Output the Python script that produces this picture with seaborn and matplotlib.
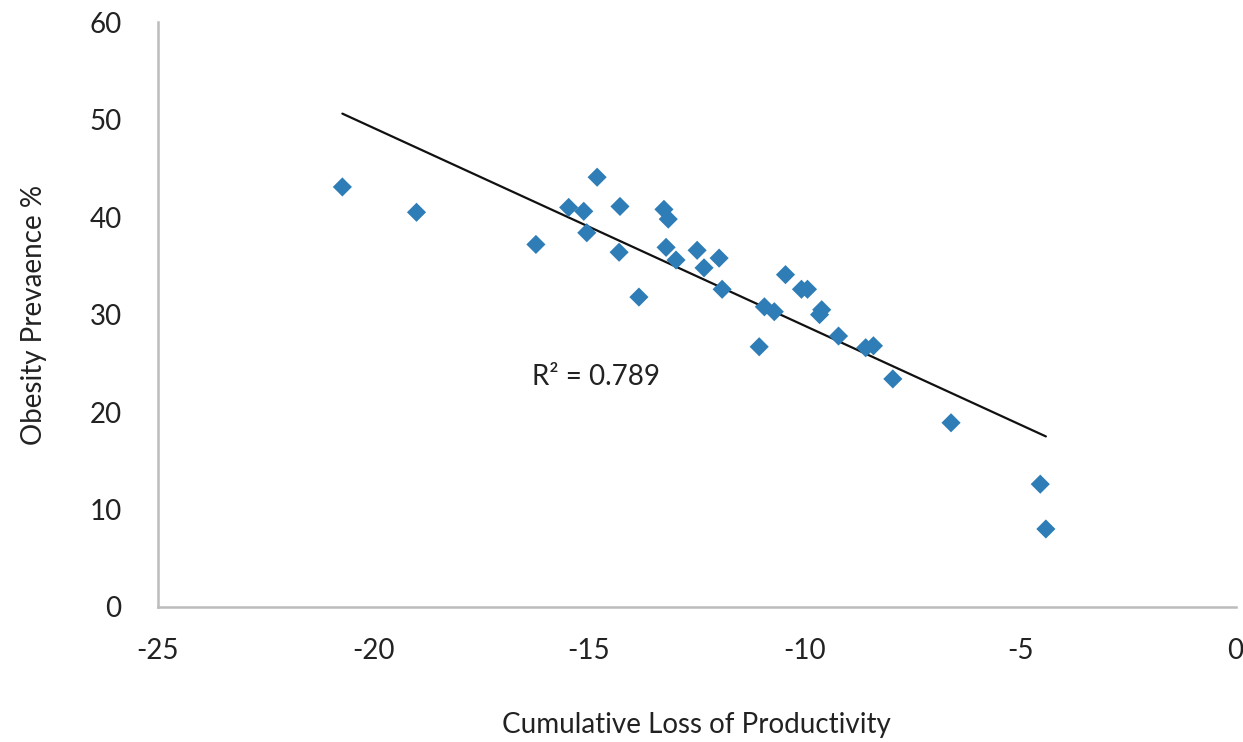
import numpy as np
import pandas as pd
import matplotlib
matplotlib.use("Agg")
import matplotlib.pyplot as plt
import seaborn as sns

# Cumulative loss of productivity vs. obesity prevalence
productivity_loss = [
    -20.72, -19.00, -16.23, -15.47, -15.12, -15.05, -14.81, -14.28, -14.30,
    -13.84, -13.26, -13.16, -13.21, -12.98, -12.49, -12.33, -11.98, -11.91,
    -11.05, -10.93, -10.70, -10.44, -10.07, -9.93, -9.65, -9.60, -9.21,
    -8.58, -8.40, -7.95, -6.60, -4.53, -4.40,
]
obesity_prevalence = [
    43.1, 40.5, 37.2, 41.0, 40.6, 38.4, 44.1, 41.1, 36.4,
    31.8, 40.8, 39.8, 36.9, 35.6, 36.6, 34.8, 35.8, 32.6,
    26.7, 30.8, 30.3, 34.1, 32.6, 32.6, 30.0, 30.5, 27.8,
    26.6, 26.8, 23.4, 18.9, 12.6, 8.0,
]
r_squared_label = "R\u00b2 = 0.789"
x_ticks = [-25, -20, -15, -10, -5, 0]
y_ticks = [0, 10, 20, 30, 40, 50, 60]

df = pd.DataFrame({"loss": productivity_loss, "obesity": obesity_prevalence})

sns.set_theme(style="white")
plt.rcParams["font.family"] = ["Lato", "DejaVu Sans"]
plt.rcParams["axes.unicode_minus"] = False

text_color = "#222222"
font_size = 20

fig = plt.figure(figsize=(12.43, 7.42), dpi=100)
ax = fig.add_axes([0.127, 0.182, 0.867, 0.788])

sns.regplot(
    data=df, x="loss", y="obesity", ax=ax, ci=None, truncate=True,
    marker="D",
    scatter_kws={"s": 95, "color": "#2E7DB6", "edgecolor": "none", "alpha": 1, "zorder": 3},
    line_kws={"color": "#111111", "lw": 1.6, "zorder": 2},
)

ax.set_xlim(-25, 0)
ax.set_ylim(0, 60)
ax.set_xticks(x_ticks)
ax.set_yticks(y_ticks)
ax.tick_params(axis="both", length=0, labelsize=font_size, colors=text_color)
ax.tick_params(axis="x", pad=22)
ax.tick_params(axis="y", pad=26)

for side in ("top", "right"):
    ax.spines[side].set_visible(False)
for side in ("left", "bottom"):
    ax.spines[side].set_color("#bcbcbc")
    ax.spines[side].set_linewidth(1.8)

ax.set_xlabel("Cumulative Loss of Productivity", fontsize=font_size, color=text_color)
ax.set_ylabel("Obesity Prevaence %", fontsize=font_size, color=text_color)
ax.xaxis.label.set_va("center")
ax.yaxis.label.set_va("center")
ax.xaxis.set_label_coords(0.5, -0.202)
ax.yaxis.set_label_coords(-0.115, 0.5)

ax.text(-16.33, 23.6, r_squared_label, fontsize=font_size, color=text_color,
        va="center", ha="left")

fig.savefig("out.png", dpi=100)
